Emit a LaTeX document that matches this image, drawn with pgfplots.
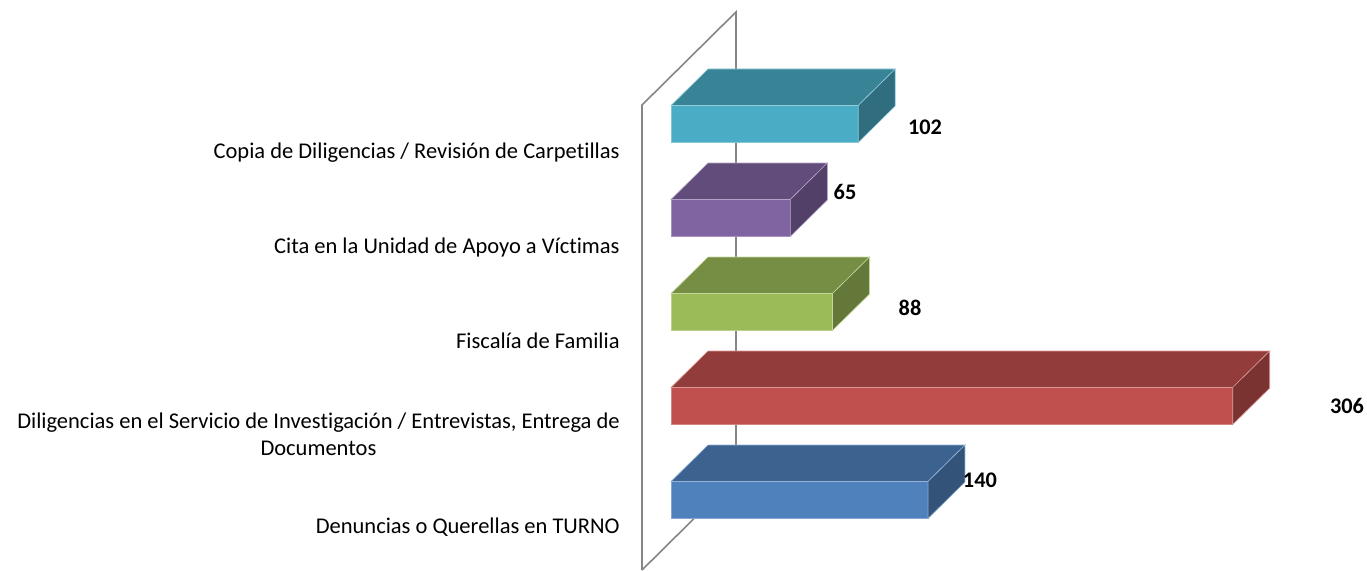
\documentclass[border=0pt]{standalone}
\usepackage{pgfplots}
\pgfplotsset{compat=1.18}
\usepackage{fontspec}
\setmainfont{Carlito}[Ligatures=NoCommon]
\definecolor{cAqua}{HTML}{4BACC6}
\definecolor{cPurple}{HTML}{8064A2}
\definecolor{cGreen}{HTML}{9BBB59}
\definecolor{cRed}{HTML}{C0504D}
\definecolor{cBlue}{HTML}{4F81BD}
\definecolor{wallgray}{RGB}{134,134,134}
\begin{document}
\begin{tikzpicture}
\begin{axis}[
  scale only axis,
  width=683.5pt, height=285.5pt,
  xmin=-365.55, xmax=379.17,
  ymin=-0.7553, ymax=5.3191,
  axis line style={draw=none},
  tick style={draw=none},
  xtick=\empty,
  ytick={-0.287,0.702,1.691,2.691,3.691},
  yticklabels={Denuncias o Querellas en TURNO,
    {Diligencias en el Servicio de Inves\mbox{t}igación / Entrevistas, Entrega de\\Documentos},
    Fiscalía de Familia,
    Cita en la Unidad de Apoyo a Víctimas,
    Copia de Diligencias / Revisión de Carpe\mbox{t}illas},
  yticklabel style={font=\fontsize{11.25}{13.5}\selectfont, align=center, anchor=east, inner sep=0pt, xshift=310pt},
  clip=false,
]
% back wall
\addplot[wallgray, line width=0.8pt] coordinates {(-15.8,-0.745) (-15.8,4.202) (35.4,5.191) (35.4,0.245) (-15.8,-0.745)};

% bar k=0, 140
\addplot[xbar, bar width=0.3936, bar shift=0, fill=cBlue, draw=cBlue!70!white, line width=0.3pt] coordinates {(140,0)};
\addplot[fill=cBlue!76!black, draw=cBlue!60!white, line width=0.3pt] coordinates {(0,0.197) (140,0.197) (160.16,0.585) (20.16,0.585)} -- cycle;
\addplot[fill=cBlue!64!black, draw=cBlue!60!white, line width=0.3pt] coordinates {(140,-0.197) (140,0.197) (160.16,0.585) (160.16,0.191)} -- cycle;

% bar k=1, 306
\addplot[xbar, bar width=0.3936, bar shift=0, fill=cRed, draw=cRed!70!white, line width=0.3pt] coordinates {(306,1)};
\addplot[fill=cRed!76!black, draw=cRed!60!white, line width=0.3pt] coordinates {(0,1.197) (306,1.197) (326.16,1.585) (20.16,1.585)} -- cycle;
\addplot[fill=cRed!64!black, draw=cRed!60!white, line width=0.3pt] coordinates {(306,0.803) (306,1.197) (326.16,1.585) (326.16,1.191)} -- cycle;

% bar k=2, 88
\addplot[xbar, bar width=0.3936, bar shift=0, fill=cGreen, draw=cGreen!70!white, line width=0.3pt] coordinates {(88,2)};
\addplot[fill=cGreen!76!black, draw=cGreen!60!white, line width=0.3pt] coordinates {(0,2.197) (88,2.197) (108.16,2.585) (20.16,2.585)} -- cycle;
\addplot[fill=cGreen!64!black, draw=cGreen!60!white, line width=0.3pt] coordinates {(88,1.803) (88,2.197) (108.16,2.585) (108.16,2.191)} -- cycle;

% bar k=3, 65
\addplot[xbar, bar width=0.3936, bar shift=0, fill=cPurple, draw=cPurple!70!white, line width=0.3pt] coordinates {(65,3)};
\addplot[fill=cPurple!76!black, draw=cPurple!60!white, line width=0.3pt] coordinates {(0,3.197) (65,3.197) (85.16,3.585) (20.16,3.585)} -- cycle;
\addplot[fill=cPurple!64!black, draw=cPurple!60!white, line width=0.3pt] coordinates {(65,2.803) (65,3.197) (85.16,3.585) (85.16,3.191)} -- cycle;

% bar k=4, 102
\addplot[xbar, bar width=0.3936, bar shift=0, fill=cAqua, draw=cAqua!70!white, line width=0.3pt] coordinates {(102,4)};
\addplot[fill=cAqua!76!black, draw=cAqua!60!white, line width=0.3pt] coordinates {(0,4.197) (102,4.197) (122.16,4.585) (20.16,4.585)} -- cycle;
\addplot[fill=cAqua!64!black, draw=cAqua!60!white, line width=0.3pt] coordinates {(102,3.803) (102,4.197) (122.16,4.585) (122.16,4.191)} -- cycle;

% value labels
\addplot[draw=none, mark=none, nodes near coords, point meta=explicit symbolic,
  nodes near coords style={anchor=center, inner sep=0pt, font=\fontsize{11.15}{13.5}\selectfont\bfseries}]
  coordinates {(168.3,0.213)[140] (368.3,1.0)[306] (130.2,2.043)[88] (94.8,3.277)[65] (138.4,3.968)[102]};
\end{axis}
\end{tikzpicture}
\end{document}
